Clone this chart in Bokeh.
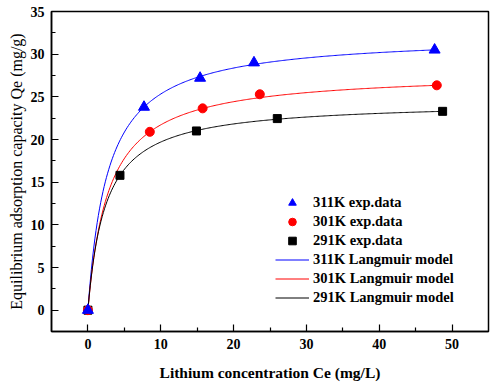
import numpy as np
from bokeh.plotting import figure
from bokeh.models import Legend, LegendItem, Range1d, FixedTicker
from bokeh.embed import file_html
from bokeh.resources import INLINE

# Experimental data (Ce in mg/L, Qe in mg/g)
x311 = [0, 7.7, 15.4, 22.8, 47.6]
y311 = [0, 23.8, 27.2, 29.0, 30.5]
x301 = [0, 8.5, 15.75, 23.6, 47.9]
y301 = [0, 20.9, 23.65, 25.3, 26.35]
x291 = [0, 4.4, 14.9, 26.0, 48.7]
y291 = [0, 15.8, 21.0, 22.45, 23.3]

# Langmuir model parameters (qm in mg/g, KL in L/mg)
qm311, kl311 = 32.25, 0.366
qm301, kl301 = 27.92, 0.350
qm291, kl291 = 24.45, 0.415

x_ticks = [0, 10, 20, 30, 40, 50]
x_minor = [5, 15, 25, 35, 45]
y_ticks = [0, 5, 10, 15, 20, 25, 30, 35]
y_minor = [2.5, 7.5, 12.5, 17.5, 22.5, 27.5, 32.5]

labels = ["311K exp.data", "301K exp.data", "291K exp.data",
          "311K Langmuir model", "301K Langmuir model", "291K Langmuir model"]


def langmuir(qm, kl, xmax):
    c = np.linspace(0, xmax, 300)
    return c, qm * kl * c / (1 + kl * c)


FONT = "Liberation Serif"

p = figure(frame_width=437, frame_height=320,
           x_range=Range1d(-5, 55), y_range=Range1d(-2.5, 35),
           output_backend="svg", toolbar_location=None,
           min_border_left=51, min_border_right=3,
           min_border_top=11, min_border_bottom=52)

p.xgrid.visible = False
p.ygrid.visible = False
p.outline_line_color = "black"
p.outline_line_width = 1.5
p.outline_line_alpha = 1.0

p.xaxis.ticker = FixedTicker(ticks=x_ticks, minor_ticks=x_minor)
p.yaxis.ticker = FixedTicker(ticks=y_ticks, minor_ticks=y_minor)

for ax in (p.xaxis, p.yaxis):
    ax.axis_line_width = 1.5
    ax.axis_line_color = "black"
    ax.major_tick_in = 7
    ax.major_tick_out = 0
    ax.minor_tick_in = 4
    ax.minor_tick_out = 0
    ax.major_tick_line_color = "black"
    ax.minor_tick_line_color = "black"
    ax.major_tick_line_width = 1.2
    ax.minor_tick_line_width = 1.2
    ax.major_label_text_font = FONT
    ax.major_label_text_font_style = "bold"
    ax.major_label_text_font_size = "14px"
    ax.major_label_text_color = "black"
    ax.axis_label_text_font = FONT
    ax.axis_label_text_color = "black"

p.xaxis.major_label_standoff = 7
p.yaxis.major_label_standoff = 7
p.xaxis.axis_label = "Lithium concentration Ce (mg/L)"
p.xaxis.axis_label_text_font_style = "bold"
p.xaxis.axis_label_text_font_size = "15.5px"
p.xaxis.axis_label_standoff = 12
p.yaxis.axis_label = "Equilibrium adsorption capacity Qe (mg/g)"
p.yaxis.axis_label_text_font_style = "normal"
p.yaxis.axis_label_text_font_size = "16px"
p.yaxis.axis_label_standoff = 3

cx, cy = langmuir(qm311, kl311, max(x311))
l311 = p.line(cx, cy, line_color="blue", line_width=1)
cx, cy = langmuir(qm301, kl301, max(x301))
l301 = p.line(cx, cy, line_color="red", line_width=1)
cx, cy = langmuir(qm291, kl291, max(x291))
l291 = p.line(cx, cy, line_color="black", line_width=1)

s291 = p.scatter(x291, y291, marker="square", size=8, color="black")
s301 = p.scatter(x301, y301, marker="circle", size=9, color="red")
s311 = p.scatter(x311, y311, marker="triangle", size=11, color="blue")

legend = Legend(items=[
    LegendItem(label=labels[0], renderers=[s311]),
    LegendItem(label=labels[1], renderers=[s301]),
    LegendItem(label=labels[2], renderers=[s291]),
    LegendItem(label=labels[3], renderers=[l311]),
    LegendItem(label=labels[4], renderers=[l301]),
    LegendItem(label=labels[5], renderers=[l291]),
], location=(224, 24))
legend.border_line_color = None
legend.background_fill_alpha = 0
legend.padding = 0
legend.margin = 0
legend.spacing = 0
legend.glyph_width = 34
legend.glyph_height = 19
legend.label_height = 19
legend.label_standoff = 4
legend.label_text_font = FONT
legend.label_text_font_style = "bold"
legend.label_text_font_size = "14.5px"
legend.label_text_color = "black"
p.add_layout(legend)

open("out.html", "w").write(file_html(p, INLINE))
